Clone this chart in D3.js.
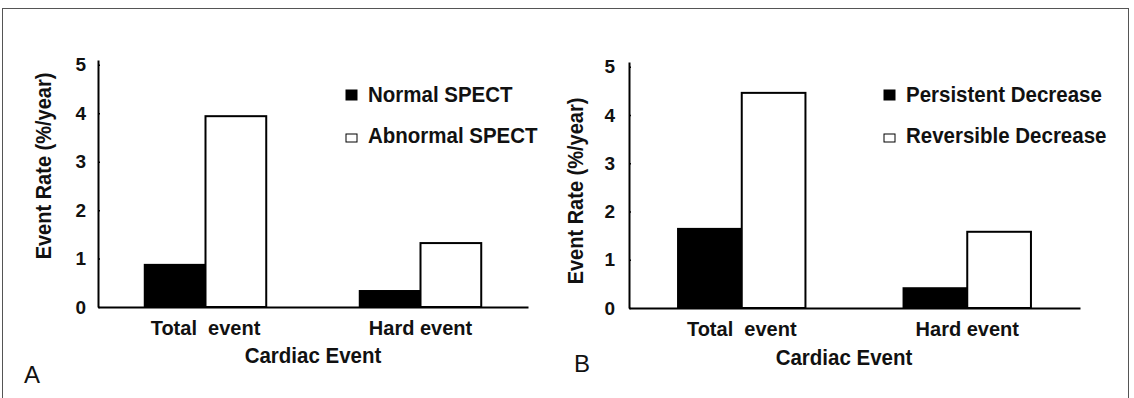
<!DOCTYPE html>
<html>
<head>
<meta charset="utf-8">
<script src="https://cdn.jsdelivr.net/npm/d3@7"></script>
<style>
    body { margin: 0; background: #fff; }
    svg text { font-family: Arial, "Liberation Sans", Helvetica, sans-serif; fill: #111; }
</style>
</head>
<body>
<svg id="chart" width="1134" height="398"></svg>
<script>
// data
const categories = ["Total  event", "Hard event"];
const yTicks = [0, 1, 2, 3, 4, 5];
const yMax = 5.1;

const seriesA = ["Normal SPECT", "Abnormal SPECT"];
const normalSpect = [0.87, 0.33];
const abnormalSpect = [3.94, 1.32];

const seriesB = ["Persistent Decrease", "Reversible Decrease"];
const persistentDecrease = [1.64, 0.41];
const reversibleDecrease = [4.46, 1.58];

const seriesFill = ["#000", "#fff"];

const svg = d3.select("#chart");

// outer frame of the figure
svg.append("rect")
   .attr("x", 2.5)
   .attr("y", 8.5)
   .attr("width", 1126)
   .attr("height", 400)
   .attr("fill", "none")
   .attr("stroke", "#555")
   .attr("stroke-width", 1);

// scanned lettering is a little taller than it is wide
const stretch = (sel) => {
    sel.each(function() {
        const t = d3.select(this);
        const x = +t.attr("x") || 0, y = +t.attr("y") || 0;
        t.attr("transform", "translate(" + x + "," + y + ") scale(1,1.1) translate(" + (-x) + "," + (-y) + ")");
    });
}

const renderPanel = (panel) => {
    const g = svg.append("g");

    const x0 = d3.scaleBand()
                 .domain(categories)
                 .range([panel.left, panel.right])
                 .paddingInner(0)
                 .paddingOuter(0);
    const x1 = d3.scaleBand()
                 .domain(panel.series)
                 .range([0, x0.bandwidth()])
                 .paddingInner(0)
                 .paddingOuter(0.77);
    const y = d3.scaleLinear()
                .domain([0, yMax])
                .range([panel.bottom, panel.top]);

    // table of bars built from the named arrays
    const rows = [];
    categories.forEach((c, i) => {
        panel.series.forEach((s, j) => {
            rows.push({ cat: c, series: s, idx: j, value: panel.values[j][i] });
        });
    });

    g.selectAll("rect.bar")
     .data(rows)
     .enter()
     .append("rect")
     .attr("class", "bar")
     .attr("x", d => x0(d.cat) + x1(d.series))
     .attr("y", d => y(d.value))
     .attr("width", x1.bandwidth())
     .attr("height", d => y(0) - y(d.value))
     .attr("fill", d => seriesFill[d.idx])
     .attr("stroke", "#000")
     .attr("stroke-width", 2);

    // x axis (baseline)
    const xAxis = g.append("g")
                   .attr("transform", "translate(0," + y(0) + ")")
                   .call(d3.axisBottom(x0).tickSize(0).tickPadding(14));
    xAxis.select(".domain").attr("stroke", "#000").attr("stroke-width", 2);
    xAxis.selectAll("text")
         .style("font-size", "20px")
         .style("font-weight", "bold")
         .style("white-space", "pre");

    // y axis
    const yAxis = g.append("g")
                   .attr("transform", "translate(" + panel.left + ",0)")
                   .call(d3.axisLeft(y)
                           .tickValues(yTicks)
                           .tickFormat(d3.format("d"))
                           .tickSizeInner(-2)
                           .tickSizeOuter(0)
                           .tickPadding(panel.tickPad));
    yAxis.select(".domain").attr("stroke", "#000").attr("stroke-width", 2);
    yAxis.selectAll(".tick line").attr("stroke", "#000").attr("stroke-width", 1.5);
    yAxis.selectAll("text")
         .style("font-size", "19px")
         .style("font-weight", "bold");

    // axis titles
    g.append("text")
     .attr("transform", "translate(" + panel.yTitleX + "," + panel.yTitleY + ") rotate(-90) scale(1,1.1)")
     .attr("text-anchor", "middle")
     .attr("dy", "0.35em")
     .style("font-size", "20px")
     .style("font-weight", "bold")
     .text("Event Rate (%/year)");

    g.append("text")
     .attr("x", panel.xTitleX)
     .attr("y", panel.xTitleY)
     .attr("text-anchor", "middle")
     .style("font-size", "20.5px")
     .style("font-weight", "bold")
     .text("Cardiac Event")
     .call(stretch);

    // legend
    const legend = g.selectAll("g.legend")
                    .data(panel.series)
                    .enter()
                    .append("g")
                    .attr("class", "legend")
                    .attr("transform", (d, i) => "translate(" + panel.legendX + "," + (panel.legendY + i * 41) + ")");
    legend.append("rect")
          .attr("x", 0)
          .attr("y", (d, i) => i == 0 ? -12 : -9)
          .attr("width", 11)
          .attr("height", (d, i) => i == 0 ? 10 : 8)
          .attr("fill", (d, i) => seriesFill[i])
          .attr("stroke", "#000")
          .attr("stroke-width", 1);
    legend.append("text")
          .attr("x", 22)
          .attr("y", 0)
          .style("font-size", "20.5px")
          .style("font-weight", "bold")
          .text(d => d)
          .call(stretch);

    // panel letter
    g.append("text")
     .attr("x", panel.letterX)
     .attr("y", panel.letterY)
     .style("font-size", "24px")
     .text(panel.letter);
}

renderPanel({
    series: seriesA,
    values: [normalSpect, abnormalSpect],
    left: 98, right: 528, top: 60, bottom: 307,
    tickPad: 12,
    yTitleX: 43, yTitleY: 166,
    xTitleX: 313, xTitleY: 363,
    legendX: 346, legendY: 102,
    letter: "A", letterX: 24, letterY: 383
});

renderPanel({
    series: seriesB,
    values: [persistentDecrease, reversibleDecrease],
    left: 629, right: 1080, top: 62, bottom: 308,
    tickPad: 14,
    yTitleX: 575, yTitleY: 191,
    xTitleX: 844, xTitleY: 365,
    legendX: 884, legendY: 102,
    letter: "B", letterX: 574, letterY: 372
});
</script>
</body>
</html>
